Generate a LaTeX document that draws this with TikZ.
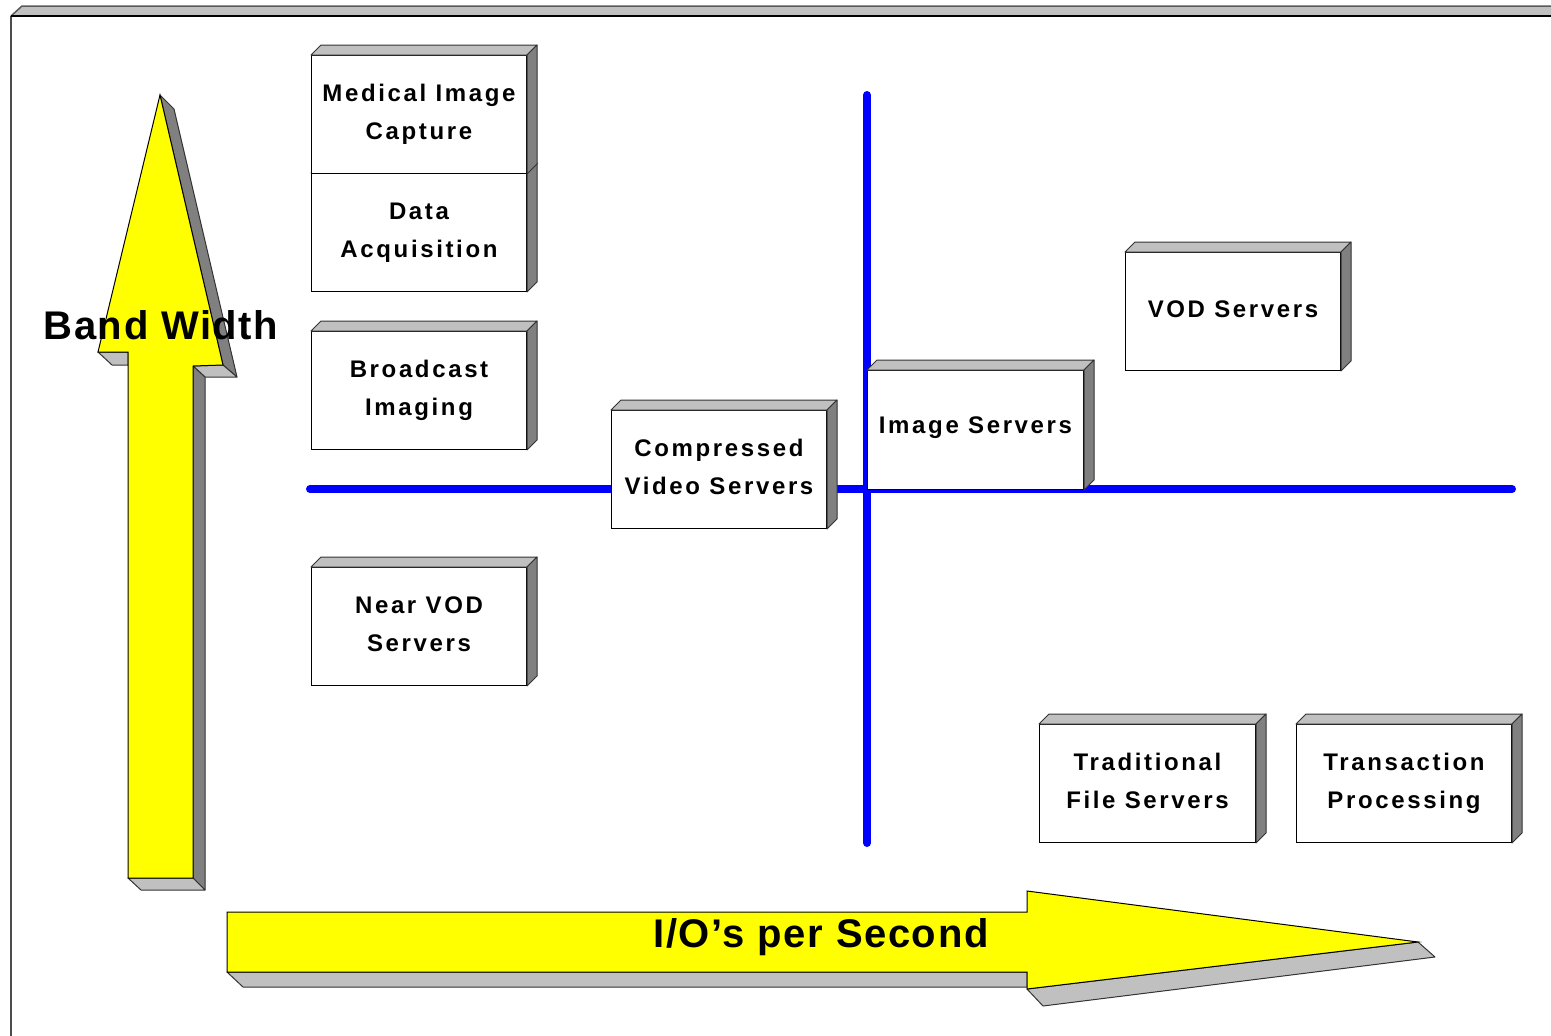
\documentclass[tikz,border=0pt]{standalone}
\usepackage{fontspec}
\setmainfont{Liberation Sans}
\newfontfamily\spacedsans[LetterSpace=11]{Liberation Sans}
\newfontfamily\axissans[LetterSpace=4]{Liberation Sans}
\definecolor{facelight}{HTML}{C0C0C0}
\definecolor{facedark}{HTML}{808080}
\definecolor{arrowyellow}{HTML}{FFFF00}
\definecolor{quadblue}{HTML}{0000FF}
\tikzset{
  server/.style={draw=black, line width=1pt, fill=white, anchor=north west,
    minimum width=215pt, minimum height=118pt, align=center, inner sep=0pt,
    font=\spacedsans\bfseries\fontsize{24}{38}\selectfont},
  topface/.style={draw=black!80, line width=1pt, fill=facelight, line join=round},
  sideface/.style={draw=black!80, line width=1pt, fill=facedark, line join=round},
  yellowbody/.style={draw=black, line width=1pt, fill=arrowyellow, line join=miter},
  quadline/.style={draw=quadblue, line width=8pt, line cap=round},
  axislabel/.style={font=\axissans\bfseries\fontsize{40}{44}\selectfont, inner sep=0pt}
}
% 3D faces (top and right side) of a server box
\newcommand\boxfaces[1]{%
  \path[topface] (#1.north west) -- ++(10,-10) -- ([shift={(10,-10)}]#1.north east) -- (#1.north east) -- cycle;
  \path[sideface] (#1.north east) -- ++(10,-10) -- ([shift={(10,-10)}]#1.south east) -- (#1.south east) -- cycle;
}
% extra depth under the last line, so the label sits a little above centre
\newcommand\lift{\rule[-5pt]{0pt}{0pt}}
\begin{document}
\begin{tikzpicture}[x=1pt, y=-1pt]
\useasboundingbox (0,0) rectangle (1551,1036);

% outer frame
\fill[facelight] (11,16) -- (22,6) -- (1551,6) -- (1551,16) -- cycle;
\draw[black!65, line width=1.5pt] (11,16) -- (22,6) -- (1551,6);
\draw[black!70, line width=2pt] (11,1036) -- (11,16);
\draw[black, line width=1.5pt] (11,16) -- (1551,16);

% quadrant lines
\coordinate (hl) at (310,489);
\coordinate (hr) at (1512,489);
\coordinate (vt) at (867,95);
\coordinate (vb) at (867,843);
\draw[quadline] (hl) -- (hr);
\draw[quadline] (vt) -- (vb);

% vertical arrow: bandwidth
\path[topface] (98,352) -- (128,352) -- (128,365) -- (112,365) -- cycle;
\path[sideface] (160,95) -- (174,109) -- (237,377) -- (223,365) -- cycle;
\path[topface] (223,365) -- (237,377) -- (205,377) -- (193,366) -- cycle;
\path[sideface] (193,366) -- (205,377) -- (205,890) -- (193,878) -- cycle;
\path[topface] (128,878) -- (193,878) -- (205,890) -- (141,890) -- cycle;
\path[yellowbody] (160,95) -- (98,352) -- (128,352) -- (128,878) -- (193,878) -- (193,366) -- (223,365) -- cycle;
\node[axislabel] (bw) at (161,325) {Band Width};

% horizontal arrow: I/O rate
\path[topface] (227,972) -- (243,987) -- (1027,987) -- (1027,972) -- cycle;
\path[topface] (1027,989) -- (1043,1006) -- (1435,957) -- (1418,942) -- cycle;
\path[yellowbody] (227,912) -- (1027,912) -- (1027,891) -- (1418,942) -- (1027,989) -- (1027,972) -- (227,972) -- cycle;
\node[axislabel] (io) at (821,937) {I/O’s per Second};

% server categories
\node[server] (daq) at (311,173) {Data\\Acquisition\lift};
\boxfaces{daq}
\node[server] (med) at (311,55) {Medical Image\\Capture\lift};
\boxfaces{med}
\node[server] (bci) at (311,331) {Broadcast\\Imaging\lift};
\boxfaces{bci}
\node[server] (nvod) at (311,567) {Near VOD\\Servers\lift};
\boxfaces{nvod}
\node[server] (cvs) at (611,410) {Compressed\\Video Servers\lift};
\boxfaces{cvs}
\node[server, minimum width=216pt, minimum height=119pt, text height=118pt-56pt, text depth=56pt] (img) at (867,370) {Image Servers};
\boxfaces{img}
\node[server] (vod) at (1125,252) {VOD Servers\lift};
\boxfaces{vod}
\node[server, minimum width=216pt] (tfs) at (1039,724) {Traditional\\File Servers\lift};
\boxfaces{tfs}
\node[server] (tp) at (1296,724) {Transaction\\Processing\lift};
\boxfaces{tp}
\end{tikzpicture}
\end{document}
